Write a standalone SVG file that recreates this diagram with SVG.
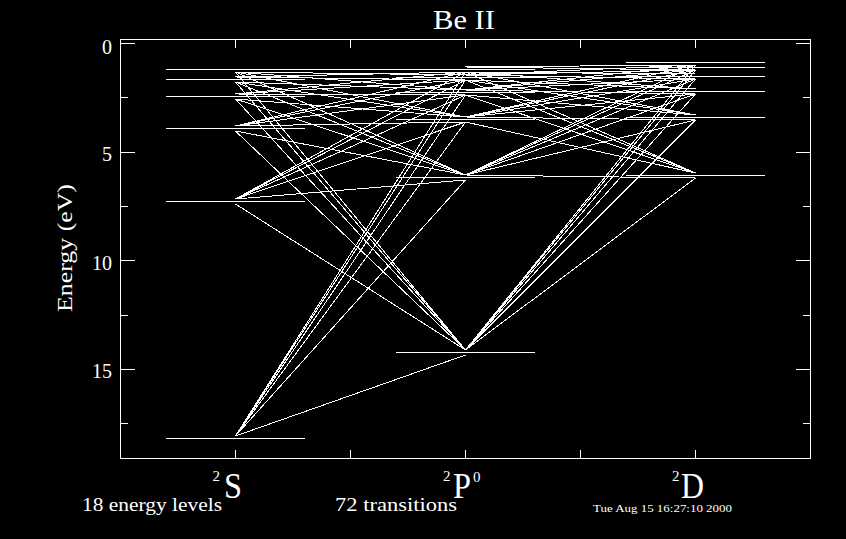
<svg xmlns="http://www.w3.org/2000/svg" width="846" height="539" viewBox="0 0 846 539">
<style>
.ln{stroke:#fff;stroke-width:1;fill:none;shape-rendering:crispEdges}
.tr line{stroke:#fff;stroke-width:1;shape-rendering:crispEdges}
.lv line{stroke:#fff;stroke-width:1;shape-rendering:crispEdges}
text{fill:#fff;font-family:"Liberation Serif","DejaVu Serif",serif}
.num{font-size:20px;text-anchor:end}
.big{font-size:35px}
.sup{font-size:15px}
.lbl{font-size:18px}
</style>
<rect x="0" y="0" width="846" height="539" fill="#000"/>
<g id="axes">
<rect class="ln" x="120.5" y="39.5" width="690" height="419"/>
<path class="ln" d="M235.5 39.5V48M350.5 39.5V48M465.5 39.5V48M580.5 39.5V48M695.5 39.5V48M235.5 458.5V450M350.5 458.5V450M465.5 458.5V450M580.5 458.5V450M695.5 458.5V450M120.5 43.5H135M120.5 152.5H135M120.5 260.5H135M120.5 369.5H135M120.5 97.5H128M120.5 206.5H128M120.5 315.5H128M120.5 423.5H128M810.5 43.5H796M810.5 152.5H796M810.5 260.5H796M810.5 369.5H796M810.5 97.5H803M810.5 206.5H803M810.5 315.5H803M810.5 423.5H803"/>
<text class="num" x="112" y="54">0</text>
<text class="num" x="112" y="161">5</text>
<text class="num" x="112" y="269.5">10</text>
<text class="num" x="112" y="378">15</text>
<text x="0" y="0" font-size="21" text-anchor="middle" textLength="128" lengthAdjust="spacingAndGlyphs" transform="translate(72 248) rotate(-90)">Energy (eV)</text>
</g>
<text id="title" x="433" y="29" font-size="28" textLength="62" lengthAdjust="spacingAndGlyphs">Be II</text>
<g id="col-S"><text class="sup" x="212.5" y="481">2</text><text class="big" x="224" y="498" textLength="18" lengthAdjust="spacingAndGlyphs">S</text></g>
<g id="col-P"><text class="sup" x="443" y="481">2</text><text class="big" x="453" y="498" textLength="18" lengthAdjust="spacingAndGlyphs">P</text><text class="sup" x="473" y="482">0</text></g>
<g id="col-D"><text class="sup" x="672" y="481">2</text><text class="big" x="681" y="498" textLength="23" lengthAdjust="spacingAndGlyphs">D</text></g>
<text id="nlev" class="lbl" x="82" y="511" textLength="140" lengthAdjust="spacingAndGlyphs">18 energy levels</text>
<text id="ntr" class="lbl" x="335" y="511" textLength="122" lengthAdjust="spacingAndGlyphs">72 transitions</text>
<text id="date" x="593" y="512" font-size="11" textLength="139" lengthAdjust="spacingAndGlyphs">Tue Aug 15 16:27:10 2000</text>
<g id="levels" class="lv">
<g id="S2"><line x1="166" y1="438.5" x2="305" y2="438.5"/></g>
<g id="S3"><line x1="166" y1="201.5" x2="305" y2="201.5"/></g>
<g id="S4"><line x1="166" y1="128.5" x2="305" y2="128.5"/></g>
<g id="S5"><line x1="166" y1="96.5" x2="305" y2="96.5"/></g>
<g id="S6"><line x1="166" y1="79.5" x2="305" y2="79.5"/></g>
<g id="S7"><line x1="166" y1="69.5" x2="305" y2="69.5"/></g>
<g id="P2"><line x1="396" y1="352.5" x2="535" y2="352.5"/></g>
<g id="P3"><line x1="396" y1="177.5" x2="535" y2="177.5"/></g>
<g id="P4"><line x1="396" y1="119.5" x2="535" y2="119.5"/></g>
<g id="P5"><line x1="396" y1="92.5" x2="535" y2="92.5"/></g>
<g id="P6"><line x1="396" y1="77.5" x2="535" y2="77.5"/></g>
<g id="P7"><line x1="396" y1="69.5" x2="535" y2="69.5"/></g>
<g id="D3"><line x1="626" y1="175.5" x2="765" y2="175.5"/></g>
<g id="D4"><line x1="626" y1="117.5" x2="765" y2="117.5"/></g>
<g id="D5"><line x1="626" y1="91.5" x2="765" y2="91.5"/></g>
<g id="D6"><line x1="626" y1="76.5" x2="765" y2="76.5"/></g>
<g id="D7"><line x1="626" y1="67.5" x2="765" y2="67.5"/></g>
<g id="D8"><line x1="626" y1="62.5" x2="765" y2="62.5"/></g>
</g>
<g id="transitions" class="tr">
<line x1="235.5" y1="436" x2="465.5" y2="355"/>
<line x1="235.5" y1="436" x2="465.5" y2="180"/>
<line x1="235.5" y1="436" x2="465.5" y2="122"/>
<line x1="235.5" y1="436" x2="465.5" y2="95"/>
<line x1="235.5" y1="436" x2="465.5" y2="80"/>
<line x1="235.5" y1="436" x2="465.5" y2="72"/>
<line x1="235.5" y1="204" x2="465.5" y2="350"/>
<line x1="235.5" y1="199" x2="465.5" y2="180"/>
<line x1="235.5" y1="199" x2="465.5" y2="122"/>
<line x1="235.5" y1="199" x2="465.5" y2="95"/>
<line x1="235.5" y1="199" x2="465.5" y2="80"/>
<line x1="235.5" y1="199" x2="465.5" y2="72"/>
<line x1="235.5" y1="131" x2="465.5" y2="350"/>
<line x1="235.5" y1="131" x2="465.5" y2="175"/>
<line x1="235.5" y1="126" x2="465.5" y2="122"/>
<line x1="235.5" y1="126" x2="465.5" y2="95"/>
<line x1="235.5" y1="126" x2="465.5" y2="80"/>
<line x1="235.5" y1="126" x2="465.5" y2="72"/>
<line x1="235.5" y1="99" x2="465.5" y2="350"/>
<line x1="235.5" y1="99" x2="465.5" y2="175"/>
<line x1="235.5" y1="99" x2="465.5" y2="117"/>
<line x1="235.5" y1="94" x2="465.5" y2="95"/>
<line x1="235.5" y1="94" x2="465.5" y2="80"/>
<line x1="235.5" y1="94" x2="465.5" y2="72"/>
<line x1="235.5" y1="82" x2="465.5" y2="350"/>
<line x1="235.5" y1="82" x2="465.5" y2="175"/>
<line x1="235.5" y1="82" x2="465.5" y2="117"/>
<line x1="235.5" y1="82" x2="465.5" y2="90"/>
<line x1="235.5" y1="77" x2="465.5" y2="80"/>
<line x1="235.5" y1="77" x2="465.5" y2="72"/>
<line x1="235.5" y1="72" x2="465.5" y2="350"/>
<line x1="235.5" y1="72" x2="465.5" y2="175"/>
<line x1="235.5" y1="72" x2="465.5" y2="117"/>
<line x1="235.5" y1="72" x2="465.5" y2="90"/>
<line x1="235.5" y1="72" x2="465.5" y2="75"/>
<line x1="235.5" y1="69.5" x2="465.5" y2="69.5"/>
<line x1="465.5" y1="350" x2="695.5" y2="178"/>
<line x1="465.5" y1="350" x2="695.5" y2="120"/>
<line x1="465.5" y1="350" x2="695.5" y2="94"/>
<line x1="465.5" y1="350" x2="695.5" y2="79"/>
<line x1="465.5" y1="350" x2="695.5" y2="70"/>
<line x1="465.5" y1="350" x2="695.5" y2="65"/>
<line x1="465.5" y1="175" x2="695.5" y2="178"/>
<line x1="465.5" y1="175" x2="695.5" y2="120"/>
<line x1="465.5" y1="175" x2="695.5" y2="94"/>
<line x1="465.5" y1="175" x2="695.5" y2="79"/>
<line x1="465.5" y1="175" x2="695.5" y2="70"/>
<line x1="465.5" y1="175" x2="695.5" y2="65"/>
<line x1="465.5" y1="122" x2="695.5" y2="173"/>
<line x1="465.5" y1="117" x2="695.5" y2="120"/>
<line x1="465.5" y1="117" x2="695.5" y2="94"/>
<line x1="465.5" y1="117" x2="695.5" y2="79"/>
<line x1="465.5" y1="117" x2="695.5" y2="70"/>
<line x1="465.5" y1="117" x2="695.5" y2="65"/>
<line x1="465.5" y1="95" x2="695.5" y2="173"/>
<line x1="465.5" y1="95" x2="695.5" y2="115"/>
<line x1="465.5" y1="90" x2="695.5" y2="94"/>
<line x1="465.5" y1="90" x2="695.5" y2="79"/>
<line x1="465.5" y1="90" x2="695.5" y2="70"/>
<line x1="465.5" y1="90" x2="695.5" y2="65"/>
<line x1="465.5" y1="80" x2="695.5" y2="173"/>
<line x1="465.5" y1="80" x2="695.5" y2="115"/>
<line x1="465.5" y1="80" x2="695.5" y2="89"/>
<line x1="465.5" y1="75" x2="695.5" y2="79"/>
<line x1="465.5" y1="75" x2="695.5" y2="70"/>
<line x1="465.5" y1="75" x2="695.5" y2="65"/>
<line x1="465.5" y1="72" x2="695.5" y2="173"/>
<line x1="465.5" y1="72" x2="695.5" y2="115"/>
<line x1="465.5" y1="72" x2="695.5" y2="89"/>
<line x1="465.5" y1="72" x2="695.5" y2="74"/>
<line x1="465.5" y1="67" x2="695.5" y2="70"/>
<line x1="465.5" y1="67" x2="695.5" y2="65"/>
</g>
</svg>
